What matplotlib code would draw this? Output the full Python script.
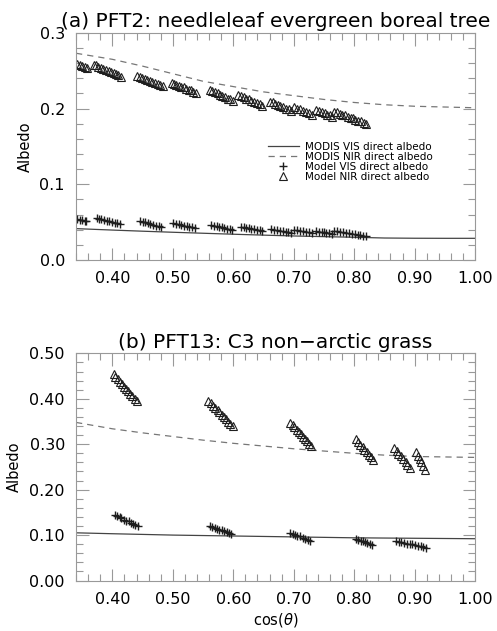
import matplotlib
matplotlib.use("Agg")
import matplotlib.pyplot as plt
from matplotlib.ticker import MultipleLocator, FormatStrFormatter

plt.rcParams["font.family"] = ["DejaVu Sans"]

# ---- MODIS fitted curves ----
modis_x = [0.34, 0.40, 0.45, 0.50, 0.55, 0.60, 0.65, 0.70, 0.75, 0.80, 0.85, 0.90, 0.95, 1.00]
a_modis_nir = [0.273, 0.265, 0.256, 0.246, 0.236, 0.229, 0.222, 0.217, 0.212, 0.208, 0.205, 0.203, 0.202, 0.201]
a_modis_vis = [0.0414, 0.0395, 0.0380, 0.0366, 0.0353, 0.0340, 0.0328, 0.0317, 0.0308, 0.0300, 0.0290, 0.0287, 0.0286, 0.0286]
b_modis_nir = [0.348, 0.334, 0.325, 0.317, 0.309, 0.302, 0.296, 0.290, 0.285, 0.280, 0.276, 0.273, 0.272, 0.271]
b_modis_vis = [0.105, 0.103, 0.1015, 0.100, 0.099, 0.098, 0.097, 0.096, 0.095, 0.094, 0.0935, 0.093, 0.0925, 0.092]

# ---- model points, one sub-list per solar-angle sweep ----
a_nir_x = [
    [0.342, 0.346, 0.350, 0.354, 0.358],
    [0.369, 0.373, 0.377, 0.381, 0.385, 0.389, 0.394, 0.398, 0.402, 0.406, 0.410, 0.414],
    [0.441, 0.445, 0.449, 0.454, 0.458, 0.462, 0.466, 0.470, 0.475, 0.479, 0.483],
    [0.498, 0.502, 0.506, 0.510, 0.514, 0.518, 0.522, 0.526, 0.530, 0.534, 0.538],
    [0.561, 0.565, 0.569, 0.574, 0.578, 0.582, 0.586, 0.591, 0.595, 0.599],
    [0.608, 0.612, 0.617, 0.621, 0.626, 0.630, 0.635, 0.639, 0.644, 0.648],
    [0.660, 0.665, 0.669, 0.674, 0.678, 0.683, 0.687, 0.692, 0.696],
    [0.701, 0.706, 0.711, 0.716, 0.721, 0.726, 0.731],
    [0.737, 0.742, 0.746, 0.751, 0.755, 0.760, 0.764],
    [0.767, 0.771, 0.776, 0.780, 0.785, 0.789, 0.794, 0.798, 0.802, 0.807, 0.811, 0.816, 0.820],
]
a_nir_y = [
    [0.259, 0.258, 0.256, 0.255, 0.253],
    [0.258, 0.257, 0.255, 0.254, 0.252, 0.251, 0.250, 0.248, 0.247, 0.245, 0.244, 0.242],
    [0.243, 0.242, 0.240, 0.239, 0.238, 0.237, 0.235, 0.234, 0.233, 0.231, 0.230],
    [0.234, 0.233, 0.231, 0.230, 0.229, 0.228, 0.226, 0.225, 0.224, 0.222, 0.221],
    [0.225, 0.223, 0.222, 0.220, 0.218, 0.217, 0.215, 0.213, 0.212, 0.210],
    [0.218, 0.216, 0.215, 0.213, 0.212, 0.210, 0.209, 0.207, 0.206, 0.204],
    [0.209, 0.208, 0.206, 0.205, 0.203, 0.202, 0.200, 0.199, 0.197],
    [0.202, 0.200, 0.199, 0.197, 0.195, 0.194, 0.192],
    [0.198, 0.197, 0.195, 0.194, 0.192, 0.191, 0.189],
    [0.196, 0.195, 0.193, 0.192, 0.191, 0.189, 0.188, 0.187, 0.185, 0.184, 0.183, 0.181, 0.180],
]
a_vis_x = [
    [0.342, 0.346, 0.350, 0.354, 0.357],
    [0.374, 0.378, 0.382, 0.387, 0.391, 0.395, 0.399, 0.404, 0.408, 0.412],
    [0.445, 0.450, 0.454, 0.459, 0.463, 0.468, 0.472, 0.477, 0.481],
    [0.501, 0.505, 0.510, 0.514, 0.519, 0.523, 0.527, 0.532, 0.536],
    [0.564, 0.568, 0.573, 0.577, 0.581, 0.585, 0.590, 0.594, 0.598],
    [0.612, 0.617, 0.621, 0.626, 0.630, 0.635, 0.639, 0.644, 0.648],
    [0.663, 0.668, 0.672, 0.677, 0.682, 0.687, 0.691, 0.696],
    [0.701, 0.706, 0.711, 0.716, 0.721, 0.726, 0.731],
    [0.737, 0.741, 0.746, 0.750, 0.754, 0.759, 0.763],
    [0.767, 0.772, 0.777, 0.781, 0.786, 0.791, 0.796, 0.801, 0.806, 0.810, 0.815, 0.820],
]
a_vis_y = [
    [0.054, 0.053, 0.053, 0.052, 0.051],
    [0.0555, 0.0546, 0.0537, 0.0528, 0.0520, 0.0511, 0.0502, 0.0493, 0.0485, 0.0476],
    [0.0515, 0.0505, 0.0495, 0.0485, 0.0475, 0.0465, 0.0455, 0.0446, 0.0436],
    [0.0490, 0.0481, 0.0472, 0.0464, 0.0455, 0.0446, 0.0437, 0.0429, 0.0420],
    [0.0460, 0.0452, 0.0445, 0.0438, 0.0430, 0.0422, 0.0415, 0.0408, 0.0400],
    [0.0436, 0.0429, 0.0423, 0.0416, 0.0410, 0.0403, 0.0396, 0.0390, 0.0383],
    [0.0410, 0.0402, 0.0395, 0.0387, 0.0380, 0.0372, 0.0365, 0.0357],
    [0.0396, 0.0390, 0.0383, 0.0377, 0.0370, 0.0364, 0.0357],
    [0.0383, 0.0376, 0.0370, 0.0363, 0.0356, 0.0350, 0.0343],
    [0.0383, 0.0377, 0.0371, 0.0365, 0.0359, 0.0353, 0.0347, 0.0341, 0.0335, 0.0329, 0.0323, 0.0317],
]
b_nir_x = [
    [0.402, 0.405, 0.409, 0.412, 0.416, 0.419, 0.423, 0.426, 0.430, 0.433, 0.437, 0.440],
    [0.559, 0.563, 0.566, 0.570, 0.574, 0.577, 0.581, 0.584, 0.588, 0.592, 0.595, 0.599],
    [0.694, 0.698, 0.701, 0.705, 0.708, 0.712, 0.715, 0.719, 0.722, 0.726, 0.729],
    [0.803, 0.807, 0.810, 0.814, 0.817, 0.821, 0.824, 0.828, 0.831],
    [0.866, 0.870, 0.873, 0.877, 0.881, 0.885, 0.888, 0.892],
    [0.902, 0.905, 0.908, 0.911, 0.914, 0.917],
]
b_nir_y = [
    [0.454, 0.449, 0.443, 0.438, 0.433, 0.427, 0.422, 0.417, 0.411, 0.406, 0.400, 0.395],
    [0.395, 0.390, 0.385, 0.380, 0.375, 0.370, 0.365, 0.360, 0.355, 0.350, 0.345, 0.340],
    [0.347, 0.342, 0.337, 0.332, 0.327, 0.322, 0.316, 0.311, 0.306, 0.301, 0.296],
    [0.311, 0.305, 0.299, 0.294, 0.288, 0.282, 0.277, 0.271, 0.265],
    [0.292, 0.286, 0.279, 0.273, 0.267, 0.261, 0.254, 0.248],
    [0.283, 0.275, 0.267, 0.260, 0.252, 0.244],
]
b_vis_x = [
    [0.404, 0.408, 0.412, 0.415, 0.419, 0.423, 0.427, 0.431, 0.434, 0.438, 0.442],
    [0.561, 0.565, 0.569, 0.573, 0.577, 0.581, 0.585, 0.589, 0.593, 0.597],
    [0.694, 0.698, 0.702, 0.706, 0.711, 0.715, 0.719, 0.723, 0.727],
    [0.803, 0.807, 0.811, 0.815, 0.818, 0.822, 0.826, 0.830],
    [0.869, 0.874, 0.878, 0.883, 0.887, 0.892, 0.896, 0.901, 0.905, 0.910, 0.914, 0.919],
]
b_vis_y = [
    [0.144, 0.142, 0.139, 0.137, 0.134, 0.132, 0.130, 0.127, 0.125, 0.122, 0.120],
    [0.120, 0.118, 0.116, 0.114, 0.112, 0.111, 0.109, 0.107, 0.105, 0.103],
    [0.105, 0.103, 0.101, 0.099, 0.097, 0.094, 0.092, 0.090, 0.088],
    [0.092, 0.090, 0.088, 0.086, 0.085, 0.083, 0.081, 0.079],
    [0.087, 0.085, 0.084, 0.082, 0.081, 0.080, 0.080, 0.079, 0.077, 0.075, 0.074, 0.072],
]

titles = ["(a) PFT2: needleleaf evergreen boreal tree", "(b) PFT13: C3 non\u2212arctic grass"]
labels = ["MODIS VIS direct albedo", "MODIS NIR direct albedo",
          "Model VIS direct albedo", "Model NIR direct albedo"]

INK = "#1e1e1e"
AXC = "#999999"


def flat(groups):
    return [v for g in groups for v in g]


def panel(ax, vis_line, nir_line, vx, vy, nx, ny, ylim, yfmt, title):
    ax.plot(modis_x, vis_line, "-", color="#444444", lw=0.9, label=labels[0])
    ax.plot(modis_x, nir_line, "--", color="#777777", lw=0.9, dashes=(5, 4), label=labels[1])
    ax.plot(flat(vx), flat(vy), "+", color=INK, ms=5.5, mew=1.0, ls="none", label=labels[2])
    ax.plot(flat(nx), flat(ny), "^", color=INK, mfc="none", ms=5.5, mew=0.8, ls="none", label=labels[3])
    ax.set_xlim(0.34, 1.0)
    ax.set_ylim(*ylim)
    ax.xaxis.set_major_locator(MultipleLocator(0.1))
    ax.xaxis.set_minor_locator(MultipleLocator(0.02))
    ax.yaxis.set_major_locator(MultipleLocator(0.1))
    ax.yaxis.set_minor_locator(MultipleLocator(0.02))
    ax.xaxis.set_major_formatter(FormatStrFormatter("%.2f"))
    ax.yaxis.set_major_formatter(FormatStrFormatter(yfmt))
    ax.tick_params(which="both", direction="in", top=True, right=True, color=AXC, width=0.8)
    ax.tick_params(which="major", length=9, labelsize=11.5, pad=8)
    ax.tick_params(which="minor", length=5)
    for s in ax.spines.values():
        s.set_color(AXC)
        s.set_linewidth(0.8)
    ax.set_ylabel("Albedo", fontsize=10.5, labelpad=5)
    ax.set_title(title, fontsize=14.5, pad=4)


fig = plt.figure(figsize=(4.97, 6.31), dpi=100)
ax1 = fig.add_axes([0.153, 0.588, 0.803, 0.360])
ax2 = fig.add_axes([0.153, 0.080, 0.803, 0.360])

panel(ax1, a_modis_vis, a_modis_nir, a_vis_x, a_vis_y, a_nir_x, a_nir_y, (0, 0.3), "%.1f", titles[0])
panel(ax2, b_modis_vis, b_modis_nir, b_vis_x, b_vis_y, b_nir_x, b_nir_y, (0, 0.5), "%.2f", titles[1])
ax2.set_xlabel(r"cos($\theta$)", fontsize=10.5, labelpad=3)

ax1.legend(loc="upper left", bbox_to_anchor=(0.48, 0.52), frameon=False, fontsize=7.5,
           handlelength=3.0, handletextpad=0.6, labelspacing=0.0, borderpad=0, borderaxespad=0)

fig.savefig("out.png", dpi=100)
